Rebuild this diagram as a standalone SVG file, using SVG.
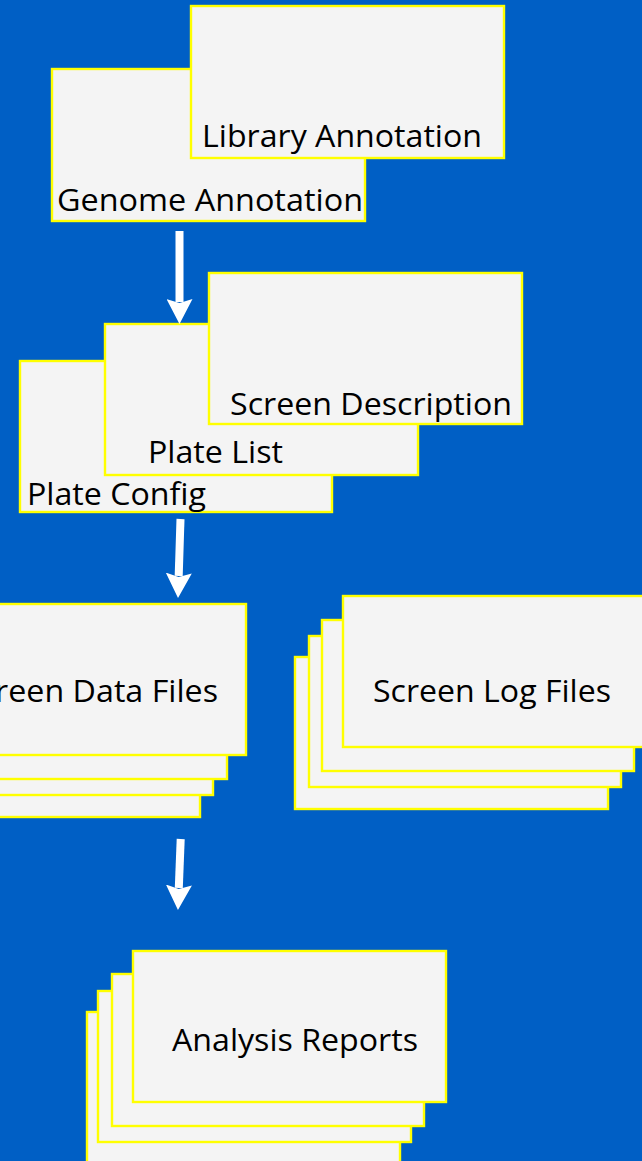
<svg xmlns="http://www.w3.org/2000/svg" width="642" height="1161" viewBox="0 0 642 1161">
  <defs>
    <style>
      .box { fill: #f4f4f4; stroke: #ffff00; stroke-width: 2.4; }
      .lbl { font-family: "Open Sans", "Noto Sans", "Liberation Sans", sans-serif; font-size: 31px; fill: #000000; }
      .flow { stroke: #ffffff; stroke-width: 8; fill: none; marker-end: url(#head); }
    </style>
    <marker id="head" markerUnits="userSpaceOnUse" viewBox="0 0 25 26" markerWidth="25" markerHeight="26" refX="3" refY="13" orient="auto">
      <path d="M0,0 L25,13 L0,26 L4,13 z" fill="#ffffff"/>
    </marker>
  </defs>

  <rect x="0" y="0" width="642" height="1161" fill="#005fc5"/>

  <!-- annotation inputs -->
  <g id="genome-annotation">
    <rect class="box" x="52" y="69" width="313" height="152"/>
    <text class="lbl" x="57" y="211" textLength="306" lengthAdjust="spacingAndGlyphs">Genome Annotation</text>
  </g>
  <g id="library-annotation">
    <rect class="box" x="191" y="6" width="313" height="152"/>
    <text class="lbl" x="202" y="147" textLength="280" lengthAdjust="spacingAndGlyphs">Library Annotation</text>
  </g>

  <!-- screen setup -->
  <g id="plate-config">
    <rect class="box" x="20" y="361" width="312" height="151"/>
    <text class="lbl" x="27" y="505" textLength="179" lengthAdjust="spacingAndGlyphs">Plate Config</text>
  </g>
  <g id="plate-list">
    <rect class="box" x="105" y="324" width="313" height="151"/>
    <text class="lbl" x="148" y="463" textLength="135" lengthAdjust="spacingAndGlyphs">Plate List</text>
  </g>
  <g id="screen-description">
    <rect class="box" x="209" y="273" width="313" height="151"/>
    <text class="lbl" x="230" y="415" textLength="282" lengthAdjust="spacingAndGlyphs">Screen Description</text>
  </g>

  <!-- raw screen output -->
  <g id="screen-data-files">
    <rect class="box" x="-113" y="666" width="313" height="151"/>
    <rect class="box" x="-100" y="644" width="313" height="151"/>
    <rect class="box" x="-86" y="628" width="313" height="151"/>
    <rect class="box" x="-67" y="604" width="313" height="151"/>
    <text class="lbl" x="218" y="702" text-anchor="end" textLength="256" lengthAdjust="spacingAndGlyphs">Screen Data Files</text>
  </g>
  <g id="screen-log-files">
    <rect class="box" x="295" y="657" width="313" height="152"/>
    <rect class="box" x="309" y="636" width="312" height="151"/>
    <rect class="box" x="322" y="620" width="312" height="151"/>
    <rect class="box" x="343" y="596" width="313" height="151"/>
    <text class="lbl" x="373" y="702" textLength="238" lengthAdjust="spacingAndGlyphs">Screen Log Files</text>
  </g>

  <!-- results -->
  <g id="analysis-reports">
    <rect class="box" x="87" y="1012" width="313" height="152"/>
    <rect class="box" x="98" y="991" width="313" height="151"/>
    <rect class="box" x="112" y="974" width="312" height="152"/>
    <rect class="box" x="133" y="951" width="313" height="151"/>
    <text class="lbl" x="172" y="1051" textLength="246" lengthAdjust="spacingAndGlyphs">Analysis Reports</text>
  </g>

  <g id="connectors">
    <line class="flow" x1="179.5" y1="231" x2="179.5" y2="302"/>
    <line class="flow" x1="180.5" y1="519" x2="178.7" y2="576"/>
    <line class="flow" x1="180.7" y1="839" x2="178.8" y2="888"/>
  </g>
</svg>
